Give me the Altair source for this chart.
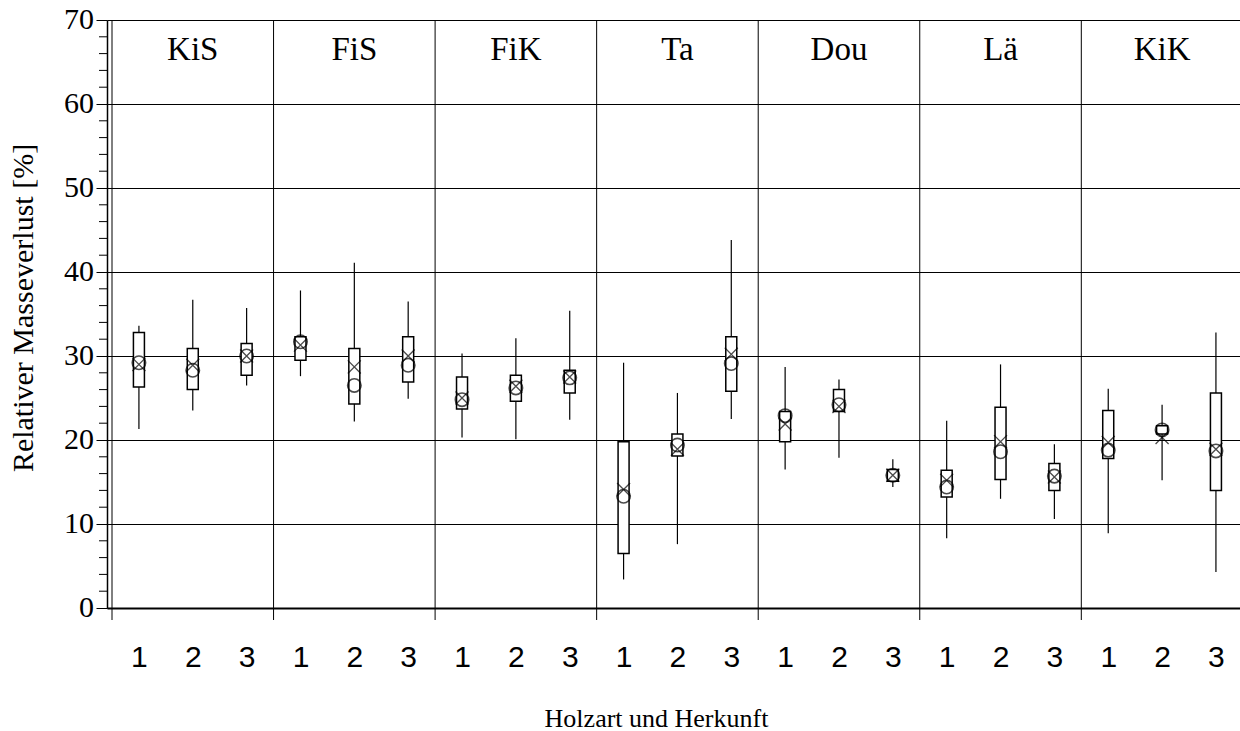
import altair as alt
import pandas as pd

species = ["KiS", "FiS", "FiK", "Ta", "Dou", "Lä", "KiK"]
origins = [1, 2, 3]

whisker_low = [21.3, 23.5, 26.5, 27.6, 22.2, 24.9, 20.3, 20.1, 22.4, 3.4, 7.6, 22.5,
               16.5, 17.9, 14.4, 8.3, 13.0, 10.6, 8.9, 15.2, 4.3]
q1 = [26.3, 26.0, 27.7, 29.5, 24.3, 26.9, 23.7, 24.6, 25.6, 6.5, 18.1, 25.8,
      19.8, 23.4, 15.1, 13.2, 15.3, 14.0, 17.8, 20.7, 14.0]
q3 = [32.8, 30.9, 31.5, 32.3, 30.9, 32.3, 27.5, 27.7, 28.3, 19.8, 20.7, 32.3,
      23.4, 26.0, 16.5, 16.4, 23.9, 17.2, 23.5, 21.7, 25.6]
whisker_high = [33.6, 36.7, 35.7, 37.8, 41.1, 36.5, 30.3, 32.1, 35.4, 29.2, 25.6, 43.8,
                28.7, 27.2, 17.7, 22.3, 29.0, 19.5, 26.1, 24.2, 32.8]
circle_vals = [29.2, 28.3, 30.0, 31.7, 26.5, 28.9, 24.8, 26.2, 27.4, 13.3, 19.4, 29.1,
               22.9, 24.2, 15.8, 14.4, 18.6, 15.7, 18.8, 21.2, 18.7]
cross_vals = [29.0, 28.9, 30.0, 31.3, 28.7, 30.0, 25.0, 26.4, 27.5, 14.1, 18.9, 30.2,
              21.9, 24.0, 15.8, 15.2, 19.8, 15.6, 19.7, 20.3, 18.9]
y_ticks = [0, 10, 20, 30, 40, 50, 60, 70]
y_minor = [v for v in range(2, 70, 2) if v % 10 != 0]
y_title = "Relativer Masseverlust [%]"
x_title = "Holzart und Herkunft"

rows = []
idx = 0
for s in species:
    for o in origins:
        rows.append(dict(species=s, origin=o, pos=idx + 0.5,
                         lo=whisker_low[idx], q1=q1[idx], q3=q3[idx],
                         hi=whisker_high[idx], circ=circle_vals[idx],
                         cross=cross_vals[idx]))
        idx += 1
df = pd.DataFrame(rows)

n = len(df)
W = 1133
H = 588
step_px = 54.33
x_max = W / step_px

sep_df = pd.DataFrame({"x": [3 * k for k in range(len(species))]})
grp_df = pd.DataFrame({"species": species,
                       "x": [3 * k + 1.5 for k in range(len(species))]})
minor_df = pd.DataFrame({"v": y_minor})
ylab_df = pd.DataFrame({"v": y_ticks, "t": [str(v) for v in y_ticks]})
ytitle_df = pd.DataFrame({"t": [y_title]})

x_scale = alt.Scale(domain=[0, x_max], nice=False, zero=False)
y_scale = alt.Scale(domain=[0, 70], nice=False, zero=True)

SERIF = "Liberation Serif"
SANS = "Liberation Sans"

x_axis = alt.Axis(
    values=[i + 0.5 for i in range(n)],
    labelExpr="'' + (round(datum.value - 0.5) % 3 + 1)",
    title=x_title,
)
y_axis = alt.Axis(values=y_ticks, labels=False, title=None)

base = alt.Chart(df)

whiskers = base.mark_rule(color="black", strokeWidth=1.2).encode(
    x=alt.X("pos:Q", scale=x_scale, axis=x_axis),
    y=alt.Y("lo:Q", scale=y_scale, axis=y_axis),
    y2="hi:Q",
)
boxes = base.mark_bar(size=11, fill="white", stroke="black", strokeWidth=1.5).encode(
    x="pos:Q", y="q1:Q", y2="q3:Q",
)
circles = base.mark_point(shape="circle", size=180, filled=False, color="black",
                          strokeWidth=1.6).encode(x="pos:Q", y="circ:Q")
crosses = base.mark_point(shape="M-1,-1L1,1M-1,1L1,-1", size=170, filled=False,
                          color="black", strokeWidth=1.3).encode(x="pos:Q", y="cross:Q")

seps = alt.Chart(sep_df).mark_rule(color="black", strokeWidth=1).encode(
    x="x:Q", y=alt.value(0), y2=alt.value(H + 12),
)
minor = alt.Chart(minor_df).mark_rule(color="black", strokeWidth=1).encode(
    y="v:Q", x=alt.value(-8), x2=alt.value(0),
)
ylabels = alt.Chart(ylab_df).mark_text(font=SERIF, fontSize=30, color="black",
                                       align="right", baseline="middle").encode(
    y="v:Q", x=alt.value(-13), text="t:N",
)
ytitle = alt.Chart(ytitle_df).mark_text(font=SERIF, fontSize=30, color="black",
                                        angle=270, align="center",
                                        baseline="middle").encode(
    x=alt.value(-83), y=alt.value(H / 2 - 6), text="t:N",
)
labels = alt.Chart(grp_df).mark_text(font=SERIF, fontSize=33,
                                     color="black", baseline="middle").encode(
    x="x:Q", y=alt.value(30), text="species:N",
)

chart = alt.layer(whiskers, seps, minor, boxes, circles, crosses, labels,
                  ylabels, ytitle).properties(
    width=W, height=H,
    autosize=alt.AutoSizeParams(type="none"),
    padding={"left": 107, "top": 20, "right": 0, "bottom": 731 - 20 - H},
).configure_view(stroke=None).configure(background="white").configure_axisX(
    ticks=False, grid=False, domain=True, domainColor="black", domainWidth=2,
    labelFont=SANS, labelFontSize=30, labelColor="black",
    labelPadding=34, labelBaseline="top", labelOverlap=False,
    titleFont=SERIF, titleFontSize=26, titleFontWeight="normal", titleColor="black",
    titlePadding=33, titleX=549, titleAnchor="start", titleAlign="center",
).configure_axisY(
    tickSize=11, tickColor="black", tickWidth=1,
    grid=True, gridColor="black", gridWidth=1,
    domain=True, domainColor="black", domainWidth=1.5,
)

chart.save("out.html", embed_options={"renderer": "svg", "actions": False})
